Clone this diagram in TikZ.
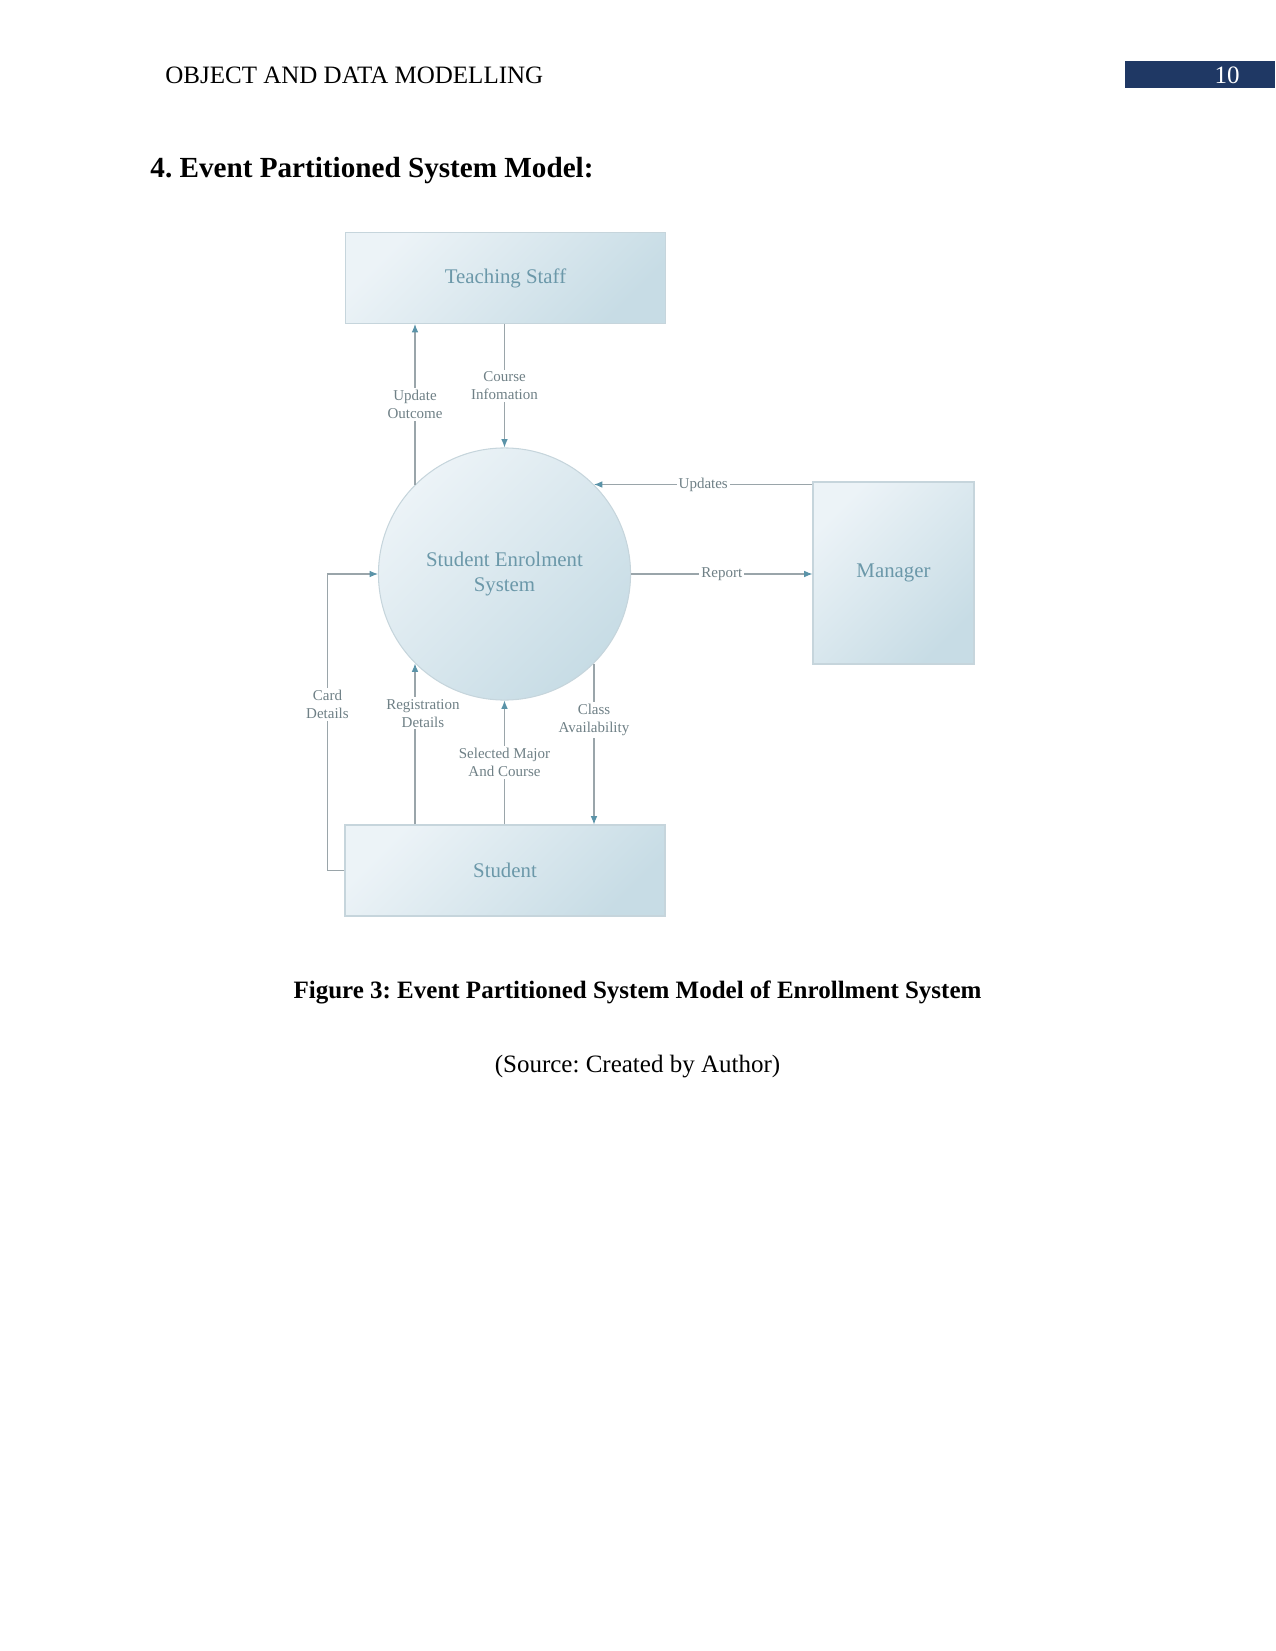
\documentclass[tikz,border=0pt]{standalone}
\usepackage{fontspec}
\setmainfont{Liberation Serif}
\frenchspacing
\usetikzlibrary{arrows.meta,shadings}
\definecolor{navy}{HTML}{1F3864}
\definecolor{boxlight}{HTML}{ECF3F7}
\definecolor{boxdark}{HTML}{C7DCE5}
\definecolor{boxline}{HTML}{C6D5DC}
\definecolor{nodetext}{HTML}{6B98A9}
\definecolor{lbltext}{HTML}{6F8086}
\definecolor{linec}{HTML}{9AA5AA}
\definecolor{tipc}{HTML}{5A93A8}
\tikzset{
  entity/.style={draw=boxline, line width=0.5pt, top color=boxlight, bottom color=boxdark, shading angle=45,
     text=nodetext, font=\fontsize{10}{12}\selectfont, align=center, inner sep=0pt},
  proc/.style={circle, draw=boxline, line width=0.5pt, top color=boxlight, bottom color=boxdark, shading angle=45,
     text=nodetext, font=\fontsize{10}{12}\selectfont, align=center, inner sep=0pt, minimum size=121pt},
  flow/.style={draw=linec, line width=0.5pt, -{Latex[length=4pt,width=3.2pt,color=tipc]}},
  lbl/.style={fill=white, text=lbltext, font=\fontsize{7.2}{8.6}\selectfont, align=center, inner sep=1pt}
}
\begin{document}
\begin{tikzpicture}[x=0.48pt, y=-0.48pt]
\path[use as bounding box] (0,0) rectangle (1275,1651);
% header
\node[anchor=west, inner sep=0pt, font=\fontsize{12}{14}\selectfont] (hdr) at (165,75) {OBJECT AND DATA MODELLING};
\fill[navy] (1125,61) rectangle (1275,88);
\node[text=white, font=\fontsize{12}{14}\selectfont] (pg) at (1227,75) {10};
\node[anchor=west, inner sep=0pt, font=\fontsize{14}{16}\selectfont\bfseries] (head) at (150,171) {4. Event Partitioned System Model:};
% diagram nodes
\node[entity, minimum width=320*0.48pt, minimum height=91*0.48pt] (ts) at (505.5,278) {Teaching Staff};
\node[entity, minimum width=161*0.48pt, minimum height=182*0.48pt] (mgr) at (893.5,573) {Manager};
\node[entity, minimum width=320*0.48pt, minimum height=91*0.48pt] (st) at (505,870.5) {Student};
\node[proc] (sys) at (504.5,574) {Student Enrolment\\System};
% flows
\draw[flow] (sys.135) -- node[lbl]{Update\\Outcome} (sys.135 |- ts.south);
\draw[flow] (ts.south -| sys.north) -- node[lbl]{Course\\Infomation} (sys.north);
\draw[flow] (mgr.west |- sys.45) -- node[lbl]{Updates} (sys.45);
\draw[flow] (sys.east) -- node[lbl]{Report} (mgr.west |- sys.east);
\draw[flow] (st.north -| sys.-135) -- node[lbl, pos=0.69, xshift=3.8pt]{Registration\\Details} (sys.-135);
\draw[flow] (st.north -| sys.south) -- node[lbl, pos=0.5]{Selected Major\\And Course} (sys.south);
\draw[flow] (sys.-45) -- node[lbl, pos=0.35]{Class\\Availability} (st.north -| sys.-45);
\draw[flow] (st.west) -- ++(-17,0) |- node[lbl, pos=0.28]{Card\\Details} (sys.west);
% caption
\node[font=\fontsize{12}{14}\selectfont\bfseries] (cap) at (637.5,992) {Figure 3: Event Partitioned System Model of Enrollment System};
\node[font=\fontsize{12}{14}\selectfont] (src) at (637.5,1067) {(Source: Created by Author)};
\end{tikzpicture}
\end{document}
